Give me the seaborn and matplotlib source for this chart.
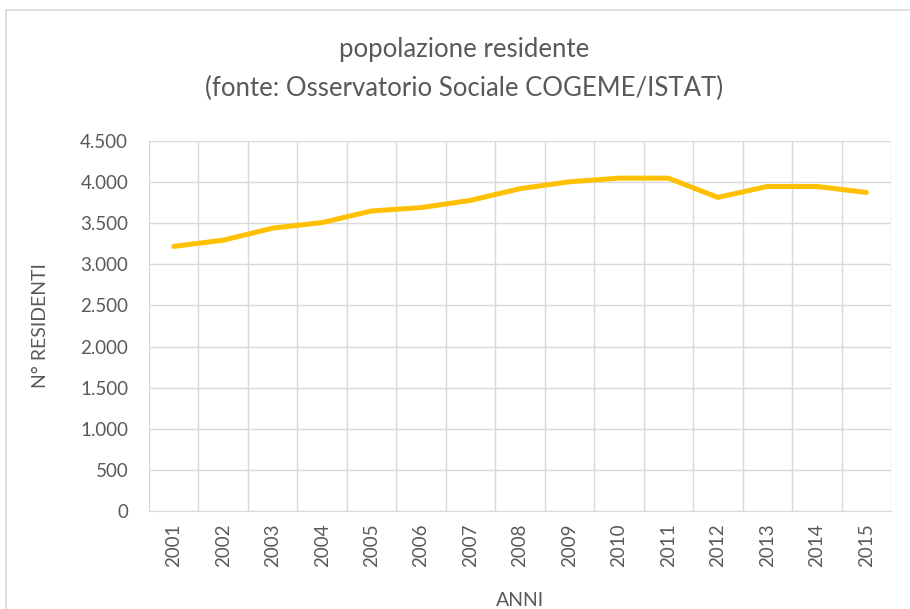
import matplotlib
matplotlib.use("Agg")
import matplotlib.pyplot as plt
import matplotlib.patches as mpatches
from matplotlib.ticker import FuncFormatter, MultipleLocator, FixedLocator
import seaborn as sns
import pandas as pd

# ============ Data ============
anni = ["2001", "2002", "2003", "2004", "2005", "2006", "2007", "2008",
        "2009", "2010", "2011", "2012", "2013", "2014", "2015"]
residenti = [3218, 3294, 3440, 3508, 3649, 3690, 3778, 3920,
             4004, 4048, 4048, 3814, 3947, 3947, 3874]

df = pd.DataFrame({"anno": anni, "residenti": residenti})

# ============ Style ============
sns.set_style("white")
plt.rcParams["font.family"] = ["Lato", "DejaVu Sans"]
TEXT = "#595959"
GRID = "#d9d9d9"

fig = plt.figure(figsize=(9.1, 6.09), dpi=100)
ax = fig.add_axes([149 / 910, 1 - 511 / 609, (891 - 149) / 910, (511 - 141) / 609])

sns.lineplot(data=df, x="anno", y="residenti", ax=ax, color="#FFC000",
             linewidth=3.6, solid_capstyle="round", solid_joinstyle="round")

ax.set_xlim(-0.5, len(anni) - 0.5)
ax.set_ylim(0, 4500)
ax.yaxis.set_major_locator(MultipleLocator(500))
ax.yaxis.set_major_formatter(FuncFormatter(lambda v, p: f"{int(v):,}".replace(",", ".")))
ax.xaxis.set_minor_locator(FixedLocator([i - 0.5 for i in range(len(anni) + 1)]))

ax.grid(True, axis="y", which="major", color=GRID, linewidth=1)
ax.grid(True, axis="x", which="minor", color=GRID, linewidth=1)
ax.grid(False, axis="x", which="major")
ax.set_axisbelow(True)
for s in ["top", "right", "left"]:
    ax.spines[s].set_visible(False)
ax.spines["bottom"].set_color(GRID)

ax.tick_params(axis="both", which="both", length=0, colors=TEXT, labelsize=13.5)
ax.tick_params(axis="x", labelrotation=90, pad=9)
ax.tick_params(axis="y", pad=15)

ax.set_xlabel("ANNI", fontsize=14, color=TEXT, labelpad=18)
ax.set_ylabel("N° RESIDENTI", fontsize=14, color=TEXT, labelpad=22)

fig.text(464 / 910, 1 - 50 / 609, "popolazione residente",
         ha="center", va="center", fontsize=18.5, color=TEXT)
fig.text(464 / 910, 1 - 88 / 609, "(fonte: Osservatorio Sociale COGEME/ISTAT)",
         ha="center", va="center", fontsize=18.5, color=TEXT)

# chart frame
fig.patches.append(mpatches.Rectangle((6 / 910, -0.01), 1.0, 1 - 10 / 609 + 0.01,
                                      transform=fig.transFigure, fill=False,
                                      edgecolor=GRID, linewidth=1.2))

fig.savefig("out.png", dpi=100)
